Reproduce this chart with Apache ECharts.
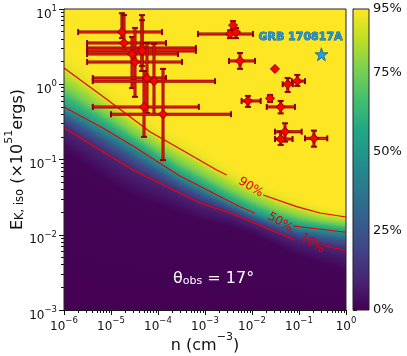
<!DOCTYPE html>
<html>
<head>
<meta charset="utf-8">
<script src="https://cdn.jsdelivr.net/npm/echarts@6/dist/echarts.min.js"></script>
<style>
html, body { margin: 0; padding: 0; background: #fff; }
#chart { width: 407px; height: 356px; }
</style>
</head>
<body>
<div id="chart"></div>
<script>
// ---- values ----
// axis ticks (exponents of 10) and colour bar ticks (%)
var xTickExp = [-6, -5, -4, -3, -2, -1, 0];
var yTickExp = [-3, -2, -1, 0, 1];
var cbarTicks = [0, 25, 50, 75, 95];
var cbarMax = 95;

// probability field: log10(E) of each probability level, sampled at levelLogN (log10 n)
var levelLogN = [-6, -5.5, -5, -4.5, -4, -3.5, -3, -2.5, -2, -1.5, -1, -0.5, 0];
var levelProb = [1, 10, 25, 50, 75, 90, 97];
var lv01 = [-0.885, -1.098, -1.307, -1.496, -1.602, -1.709, -1.829, -1.880, -1.984, -2.133, -2.284, -2.375, -2.479];
var lv10 = [-0.581, -0.771, -0.962, -1.150, -1.304, -1.459, -1.600, -1.708, -1.835, -1.963, -2.080, -2.143, -2.212];
var lv25 = [-0.442, -0.621, -0.804, -0.992, -1.168, -1.345, -1.495, -1.629, -1.766, -1.885, -1.987, -2.037, -2.090];
var lv50 = [-0.302, -0.471, -0.646, -0.834, -1.031, -1.230, -1.390, -1.550, -1.698, -1.807, -1.893, -1.930, -1.967];
var lv75 = [-0.043, -0.241, -0.444, -0.655, -0.862, -1.050, -1.220, -1.388, -1.543, -1.669, -1.764, -1.825, -1.866];
var lv90 = [0.216, -0.010, -0.242, -0.476, -0.692, -0.870, -1.050, -1.225, -1.388, -1.530, -1.635, -1.720, -1.764];
var lv97 = [0.517, 0.258, -0.007, -0.268, -0.495, -0.660, -0.852, -1.036, -1.208, -1.369, -1.485, -1.598, -1.646];
var levels = [lv01, lv10, lv25, lv50, lv75, lv90, lv97];

// red contour lines [log10 n, log10 E]; null = gap for the inline label
var c90 = [[-6, 0.216], [-5.164, -0.165], [-4.453, -0.498], [-4.170, -0.631], [-3.462, -0.883],
           [-2.751, -1.140], [-2.538, -1.206], null, [-1.760, -1.472], [-1.049, -1.627],
           [-0.553, -1.711], [0, -1.764]];
var c50 = [[-6, -0.302], [-5.164, -0.585], [-4.453, -0.851], [-4.170, -0.967], [-3.532, -1.219],
           [-2.830, -1.445], [-2.255, -1.627], [-1.936, -1.715], null, [-1.121, -1.884], [0, -1.967]];
var c10 = [[-6, -0.581], [-4.532, -1.140], [-3.532, -1.449], [-3.106, -1.578], [-2.468, -1.711],
           [-1.085, -2.070], null, [-0.447, -2.149], [0, -2.212]];
// inline contour labels: text and centre [log10 n, log10 E]
var contourNames = ['90%', '50%', '10%'];
var contourLabN = [-2.028, -1.404, -0.717];
var contourLabE = [-1.369, -1.835, -2.114];

// GRB afterglow sample: density n (cm^-3), energy E (1e51 erg), error ranges (null = no bar)
var ptN   = [1.71e-5, 1.89e-5, 2.80e-5, 3.24e-5, 4.57e-5, 4.57e-5, 5.83e-5, 8.22e-5, 5.04e-5, 1.28e-4,
             3.95e-3, 3.40e-3, 4.57e-3, 5.56e-3, 3.08e-2, 5.75e-2, 9.2e-2, 8.2e-3, 2.42e-2, 4.08e-2,
             5.04e-2, 4.08e-2, 0.208];
var ptNlo = [2.0e-6, 3.1e-6, 3.1e-6, 3.1e-6, 3.1e-6, 3.1e-6, 4.1e-6, 4.1e-6, 4.1e-6, 1.0e-5,
             null, 7.1e-4, null, 3.24e-3, null, 4.5e-2, 7.0e-2, 6.0e-3, null, 2.06e-2,
             3.08e-2, 3.08e-2, 0.134];
var ptNhi = [1.22e-4, 1.48e-4, 2.67e-4, 3.24e-4, 6.4e-4, 6.4e-4, 1.48e-4, 1.63e-3, 7.4e-4, 3.57e-3,
             null, 1.05e-2, null, 1.16e-2, null, 7.4e-2, 0.134, 1.53e-2, null, 8.2e-2,
             0.114, 7.3e-2, 0.40];
var ptE   = [4.94, 3.53, 2.52, 1.98, 3.03, 2.77, 1.21, 1.10, 0.50, 0.40,
             6.1, 4.66, 4.94, 2.04, 1.60, 1.0, 1.10, 0.60, 0.65, 0.50,
             0.234, 0.187, 0.191];
var ptElo = [4.1, 3.0, 0.89, 0.68, 1.50, 1.75, 0.415, 0.40, 0.20, 0.098,
             5.4, 4.1, 4.1, 1.60, null, 0.79, 0.95, 0.50, 0.58, 0.41,
             0.173, 0.156, 0.148];
var ptEhi = [8.8, 8.3, 4.25, 5.6, 8.3, 7.1, 3.53, 3.45, 1.50, 1.6,
             6.9, 5.2, 5.6, 2.60, null, 1.21, 1.33, 0.70, 0.72, 0.60,
             0.303, 0.234, 0.242];

// GRB 170817A
var grbN = [0.30];
var grbE = [2.5];

// ---- helpers ----
var FONT = '"DejaVu Sans", sans-serif';
var VIRIDIS = ['#440154', '#482475', '#414487', '#355f8d', '#2a788e', '#21918c',
               '#22a884', '#44bf70', '#7ad151', '#bddf26', '#fde725'];
var VIR_RGB = VIRIDIS.map(function(h) {
	return [parseInt(h.substr(1, 2), 16), parseInt(h.substr(3, 2), 16), parseInt(h.substr(5, 2), 16)];
});
function viridis(t) {
	t = Math.max(0, Math.min(1, t));
	var s = t * 10, i = Math.min(9, Math.floor(s)), f = s - i;
	var a = VIR_RGB[i], b = VIR_RGB[i + 1];
	return 'rgb(' + Math.round(a[0] + (b[0] - a[0]) * f) + ',' + Math.round(a[1] + (b[1] - a[1]) * f) + ',' + Math.round(a[2] + (b[2] - a[2]) * f) + ')';
}
function probColor(p) { return viridis(p / cbarMax); }
function clamp01(v) { return Math.max(0, Math.min(1, v)); }
function levelAt(arr, u) {
	if (u <= levelLogN[0]) return arr[0];
	for (var k = 1; k < levelLogN.length; k++) {
		if (u <= levelLogN[k]) {
			var f = (u - levelLogN[k - 1]) / (levelLogN[k] - levelLogN[k - 1]);
			return arr[k - 1] + f * (arr[k] - arr[k - 1]);
		}
	}
	return arr[arr.length - 1];
}
function pow10(v) { return Math.pow(10, v); }
function supLabel(v) {
	var e = Math.round(Math.log(v) / Math.LN10);
	return '{b|10}{s|' + (e < 0 ? '\u2212' + (-e) : e) + '}';
}

var xMajor = xTickExp.map(pow10);
var yMajor = yTickExp.map(pow10);
var xMinor = [], yMinor = [];
for (var d = xTickExp[0]; d < xTickExp[xTickExp.length - 1]; d++)
	for (var m = 2; m < 10; m++) xMinor.push(m * Math.pow(10, d));
for (var d2 = yTickExp[0]; d2 < yTickExp[yTickExp.length - 1]; d2++)
	for (var m2 = 2; m2 < 10; m2++) yMinor.push(m2 * Math.pow(10, d2));

// background shading: 1px-aligned vertical strips, each with a gradient through the level curves
function renderField(params, api) {
	var cs = params.coordSys;
	var u0 = xTickExp[0], u1 = xTickExp[xTickExp.length - 1];
	var left = Math.round(cs.x), right = Math.round(cs.x + cs.width);
	var step = 2, kids = [];
	for (var px = left; px < right; px += step) {
		var xm = Math.min(px + step / 2, right);
		var um = u0 + (u1 - u0) * (xm - cs.x) / cs.width;
		var offs = [], ps = [];
		for (var j = levels.length - 1; j >= 0; j--) {
			var y = api.coord([pow10(um), pow10(levelAt(levels[j], um))])[1];
			offs.push((y - cs.y) / cs.height);
			ps.push(levelProb[j]);
		}
		var stops = [{ offset: 0, color: probColor(100) }];
		for (var k = 0; k < offs.length; k++) {
			if (k > 0) stops.push({ offset: clamp01((offs[k - 1] + offs[k]) / 2), color: probColor((ps[k - 1] + ps[k]) / 2) });
			stops.push({ offset: clamp01(offs[k]), color: probColor(ps[k]) });
		}
		stops.push({ offset: 1, color: probColor(0) });
		kids.push({
			type: 'rect',
			shape: { x: px, y: cs.y, width: Math.min(step + 1, right - px), height: cs.height },
			style: { fill: { type: 'linear', x: 0, y: 0, x2: 0, y2: 1, colorStops: stops } }
		});
	}
	return { type: 'group', children: kids };
}

// error bars: dark red outline, red core, dark red caps
function renderErr(params, api) {
	var n = api.value(0), e = api.value(1);
	var nlo = api.value(2), nhi = api.value(3), elo = api.value(4), ehi = api.value(5);
	var kids = [];
	function bar(p, q, capDir) {
		kids.push({ type: 'line', shape: { x1: p[0], y1: p[1], x2: q[0], y2: q[1] }, style: { stroke: '#8b0000', lineWidth: 3 } });
		kids.push({ type: 'line', shape: { x1: p[0], y1: p[1], x2: q[0], y2: q[1] }, style: { stroke: '#ff1a1a', lineWidth: 1.2 } });
		[p, q].forEach(function(c) {
			var s = capDir === 'v'
				? { x1: c[0], y1: c[1] - 3, x2: c[0], y2: c[1] + 3 }
				: { x1: c[0] - 3, y1: c[1], x2: c[0] + 3, y2: c[1] };
			kids.push({ type: 'line', shape: s, style: { stroke: '#8b0000', lineWidth: 2 } });
		});
	}
	if (nlo > 0 && nhi > 0) bar(api.coord([nlo, e]), api.coord([nhi, e]), 'v');
	if (elo > 0 && ehi > 0) bar(api.coord([n, ehi]), api.coord([n, elo]), 'h');
	return { type: 'group', children: kids };
}

// inline contour label, rotated along the line
var labelRot = [-31, -31, -33];
function renderContourLabel(params, api) {
	var i = params.dataIndex;
	var c = api.coord([api.value(0), api.value(1)]);
	return {
		type: 'text', x: c[0], y: c[1], rotation: labelRot[i] * Math.PI / 180,
		style: { text: contourNames[i], fill: '#e00000', fontSize: 12, fontFamily: FONT,
		         align: 'center', verticalAlign: 'middle' }
	};
}

function renderBar(params, api) {
	var p0 = api.coord([0, cbarMax]), p1 = api.coord([1, 0]);
	var stops = VIRIDIS.map(function(c, i) { return { offset: 1 - i / (VIRIDIS.length - 1), color: c }; }).reverse();
	return {
		type: 'rect',
		shape: { x: p0[0], y: p0[1], width: p1[0] - p0[0], height: p1[1] - p0[1] },
		style: { fill: { type: 'linear', x: 0, y: 0, x2: 0, y2: 1, colorStops: stops } }
	};
}

function contourSeries(pts, name) {
	var segs = [[]];
	pts.forEach(function(p) {
		if (p === null) segs.push([]);
		else segs[segs.length - 1].push([pow10(p[0]), pow10(p[1])]);
	});
	return segs.map(function(seg) {
		return {
			type: 'line', name: name, xAxisIndex: 0, yAxisIndex: 0, z: 3, silent: true,
			symbol: 'none', smooth: false, data: seg,
			lineStyle: { color: '#f00000', width: 1.2 }
		};
	});
}

var tickRich = {
	b: { fontSize: 12, lineHeight: 16, fontFamily: FONT, color: '#111', verticalAlign: 'bottom' },
	s: { fontSize: 8.5, lineHeight: 8, fontFamily: FONT, color: '#111', verticalAlign: 'top' }
};
var nameRich = {
	b: { fontSize: 16, lineHeight: 22, fontFamily: FONT, color: '#111', verticalAlign: 'bottom' },
	s: { fontSize: 11, lineHeight: 12, fontFamily: FONT, color: '#111', verticalAlign: 'top' },
	u: { fontSize: 11.5, lineHeight: 12, fontFamily: FONT, color: '#111', verticalAlign: 'bottom' }
};
var axisCol = '#111';

var errData = ptN.map(function(n, i) {
	return [n, ptE[i], ptNlo[i], ptNhi[i], ptElo[i], ptEhi[i]];
});

var series = [{
	type: 'custom', xAxisIndex: 0, yAxisIndex: 0, z: 1, silent: true,
	renderItem: renderField, data: [[1e-3, 1e-1]], encode: { x: 0, y: 1 }
}];
series = series.concat(contourSeries(c90, '90%'), contourSeries(c50, '50%'), contourSeries(c10, '10%'));
series.push({
	type: 'custom', xAxisIndex: 0, yAxisIndex: 0, z: 3, silent: true,
	renderItem: renderContourLabel, encode: { x: 0, y: 1 },
	data: contourLabN.map(function(u, i) { return [pow10(u), pow10(contourLabE[i])]; })
});
series.push({
	type: 'custom', xAxisIndex: 0, yAxisIndex: 0, z: 4, silent: true,
	renderItem: renderErr, data: errData, encode: { x: 0, y: 1 }
});
series.push({
	type: 'scatter', xAxisIndex: 0, yAxisIndex: 0, z: 5, silent: true,
	symbol: 'diamond', symbolSize: 9,
	itemStyle: { color: '#ff0000', borderColor: '#8b0000', borderWidth: 1, opacity: 1 },
	data: ptN.map(function(n, i) { return [n, ptE[i]]; })
});
series.push({
	type: 'scatter', xAxisIndex: 0, yAxisIndex: 0, z: 5, silent: true,
	symbol: 'path://M50,0 L61,35 L98,35 L68,57 L79,91 L50,70 L21,91 L32,57 L2,35 L39,35 Z',
	symbolSize: 13,
	itemStyle: { color: '#1aa3ea', borderColor: '#1d5a8c', borderWidth: 0.8, opacity: 1 },
	data: grbN.map(function(n, i) { return [n, grbE[i]]; })
});
series.push({
	type: 'custom', xAxisIndex: 2, yAxisIndex: 2, z: 1, silent: true,
	renderItem: renderBar, data: [[0.5, 50]], encode: { x: 0, y: 1 }
});

var myChart = echarts.init(document.getElementById('chart'), null, { renderer: 'canvas' });
var option = {
	animation: false,
	backgroundColor: '#fff',
	grid: [
		{ left: 64, top: 9, width: 282, height: 301, show: true, z: 10, outerBoundsMode: 'none', containLabel: false,
		  backgroundColor: 'transparent', borderColor: '#222', borderWidth: 1 },
		{ left: 353, top: 9, width: 16, height: 301, show: true, z: 10, outerBoundsMode: 'none', containLabel: false,
		  backgroundColor: 'transparent', borderColor: '#222', borderWidth: 1 }
	],
	xAxis: [{
		type: 'log', gridIndex: 0, min: xMajor[0], max: xMajor[xMajor.length - 1], position: 'bottom',
		axisLine: { show: true, onZero: false, lineStyle: { color: axisCol } },
		axisTick: { show: true, length: 5, customValues: xMajor, lineStyle: { color: axisCol } },
		axisLabel: { customValues: xMajor, formatter: supLabel, margin: 6.5, rich: tickRich },
		splitLine: { show: false }, minorTick: { show: false },
		name: '{b|n (cm}{s|\u22123}{b|)}', nameLocation: 'middle', nameGap: 22, nameMoveOverlap: false,
		nameTextStyle: { rich: nameRich }
	}, {
		type: 'log', gridIndex: 0, min: xMajor[0], max: xMajor[xMajor.length - 1], position: 'bottom',
		axisLine: { show: false, onZero: false },
		axisTick: { show: true, length: 3, customValues: xMinor, lineStyle: { color: axisCol } },
		axisLabel: { show: false }, splitLine: { show: false }
	}, {
		type: 'value', gridIndex: 1, min: 0, max: 1, show: false
	}],
	yAxis: [{
		type: 'log', gridIndex: 0, min: yMajor[0], max: yMajor[yMajor.length - 1], position: 'left',
		axisLine: { show: true, onZero: false, lineStyle: { color: axisCol } },
		axisTick: { show: true, length: 5, customValues: yMajor, lineStyle: { color: axisCol } },
		axisLabel: { customValues: yMajor, formatter: supLabel, margin: 7, rich: tickRich, padding: [7, 0, 0, 0] },
		splitLine: { show: false },
		name: '{b|E}{u|K, iso}{b| (\u00d710}{s|51}{b|ergs)}', nameLocation: 'middle', nameGap: 38, nameMoveOverlap: false,
		nameTextStyle: { rich: nameRich }
	}, {
		type: 'log', gridIndex: 0, min: yMajor[0], max: yMajor[yMajor.length - 1], position: 'left',
		axisLine: { show: false, onZero: false },
		axisTick: { show: true, length: 3, customValues: yMinor, lineStyle: { color: axisCol } },
		axisLabel: { show: false }, splitLine: { show: false }
	}, {
		type: 'value', gridIndex: 1, min: 0, max: cbarMax, position: 'right',
		axisLine: { show: true, lineStyle: { color: axisCol } },
		axisTick: { show: true, length: 4, customValues: cbarTicks, lineStyle: { color: axisCol } },
		axisLabel: { customValues: cbarTicks, formatter: '{value}%', margin: 4, fontSize: 13, fontFamily: FONT, color: '#111' },
		splitLine: { show: false }
	}],
	graphic: [{
		type: 'text', left: 258, top: 31, z: 20, silent: true,
		style: { text: 'GRB 170817A', fontSize: 11, fontWeight: 'bold', fontFamily: FONT,
		         fill: '#1f96dc', stroke: '#1b5a8a', lineWidth: 0.8 }
	}, {
		type: 'text', left: 173, top: 271, z: 20, silent: true,
		style: {
			text: '{b|\u03b8}{s|obs}{b| = 17\u00b0}', fill: '#fff',
			rich: {
				b: { fontSize: 16, lineHeight: 20, fontFamily: FONT, fill: '#fff', verticalAlign: 'bottom' },
				s: { fontSize: 11, lineHeight: 12, fontFamily: FONT, fill: '#fff', verticalAlign: 'bottom' }
			}
		}
	}],
	series: series
};
myChart.setOption(option);
</script>
</body>
</html>
